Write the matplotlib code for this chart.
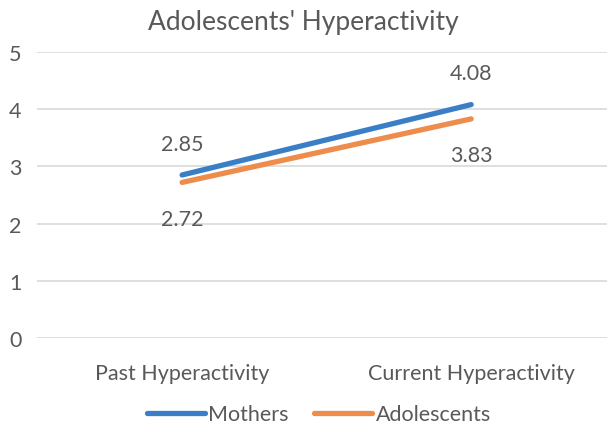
import matplotlib
matplotlib.use("Agg")
import matplotlib.pyplot as plt

# dataset
categories = ["Past Hyperactivity", "Current Hyperactivity"]
mothers = [2.85, 4.08]
adolescents = [2.72, 3.83]

plt.rcParams['font.family'] = ['Lato', 'DejaVu Sans']
text_color = "#595959"
fs = 15.5

fig = plt.figure(figsize=(6.07, 4.27), dpi=100)
ax = fig.add_axes([0.061, 0.206, 0.939, 0.67])

x = list(range(len(categories)))
ax.plot(x, mothers, color="#3A7EC6", linewidth=3.8, solid_capstyle="round", label="Mothers")
ax.plot(x, adolescents, color="#EE8C4C", linewidth=3.8, solid_capstyle="round", label="Adolescents")

# data labels: mothers above, adolescents below
ax.annotate("%.2f" % mothers[0], (x[0], mothers[0]), xytext=(0, 22), textcoords="offset points",
            ha="center", va="center", fontsize=fs, color=text_color)
ax.annotate("%.2f" % adolescents[0], (x[0], adolescents[0]), xytext=(0, -26), textcoords="offset points",
            ha="center", va="center", fontsize=fs, color=text_color)
ax.annotate("%.2f" % mothers[1], (x[1], mothers[1]), xytext=(0, 23), textcoords="offset points",
            ha="center", va="center", fontsize=fs, color=text_color)
ax.annotate("%.2f" % adolescents[1], (x[1], adolescents[1]), xytext=(0, -26), textcoords="offset points",
            ha="center", va="center", fontsize=fs, color=text_color)

ax.set_xlim(-0.502, 1.47)
ax.set_ylim(0, 5)
ax.set_yticks(range(0, 6))
ax.set_xticks(x)
ax.set_xticklabels(categories)
ax.tick_params(axis="both", length=0, labelsize=fs, labelcolor=text_color)
ax.tick_params(axis="x", pad=18)
ax.tick_params(axis="y", pad=11)
ax.grid(axis="y", color="#D9D9D9", linewidth=1.2)
ax.set_axisbelow(True)
for s in ax.spines.values():
    s.set_visible(False)

fig.text(0.5, 0.948, "Adolescents' Hyperactivity", ha="center", va="center", fontsize=19, color=text_color)

fig.legend(loc="center", bbox_to_anchor=(0.525, 0.027), ncol=2, frameon=False, fontsize=fs,
           labelcolor=text_color, handlelength=2.7, handletextpad=0.15, columnspacing=1.2)

fig.savefig("out.png", dpi=100)
